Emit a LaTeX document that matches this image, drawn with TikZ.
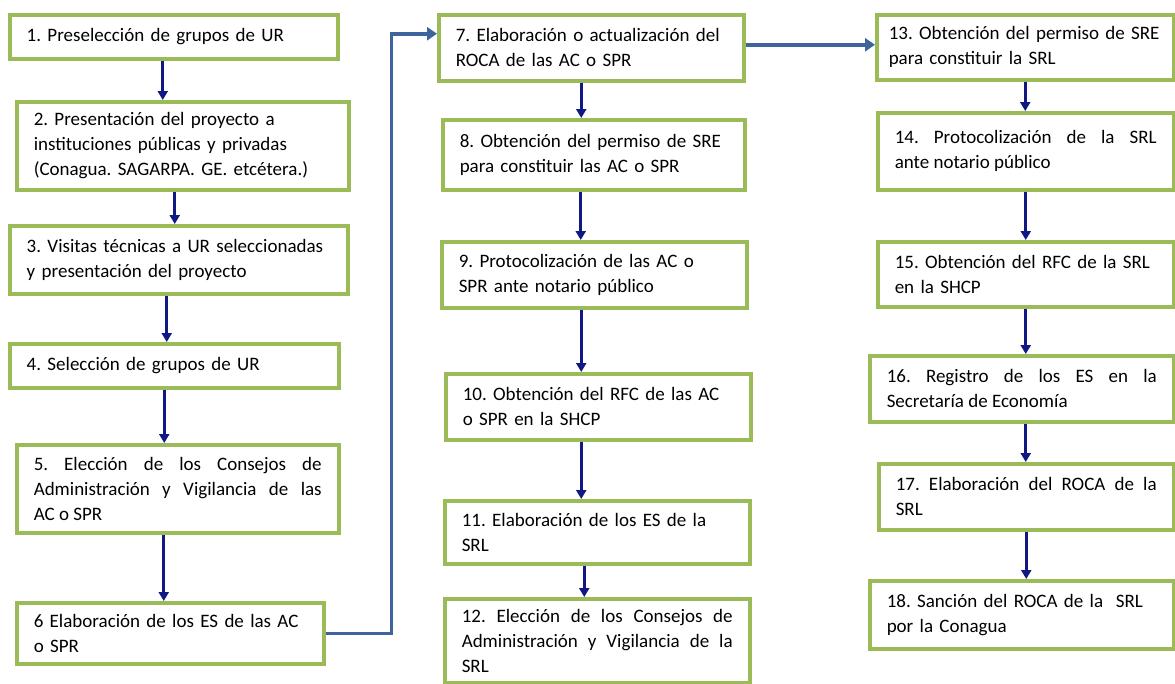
\documentclass[tikz,border=0pt]{standalone}
\usepackage{fontspec}
\setmainfont{Carlito}
\usepackage{tikz}
\usetikzlibrary{arrows.meta,calc}
\definecolor{boxgreen}{RGB}{155,187,89}
\definecolor{navyarrow}{RGB}{16,24,132}
\definecolor{linkblue}{RGB}{62,100,158}
\frenchspacing

\begin{document}
\begin{tikzpicture}[x=1pt,y=-1pt]
  \tikzstyle{pbox}=[rectangle,draw=boxgreen,line width=3.5pt,fill=white,anchor=north west,inner xsep=17pt,inner ysep=2pt,align=left,font=\fontsize{19}{25}\selectfont]
  \tikzstyle{jbox}=[pbox,align=justify]
  \tikzstyle{down}=[draw=navyarrow,line width=2.6pt,-{Triangle[width=10pt,length=9pt]}]
  \tikzstyle{link}=[draw=linkblue,line width=3.5pt,-{Triangle[width=13pt,length=10pt]}]
  \useasboundingbox (0,0) rectangle (1175,683);
  % columna 1
  \node[pbox,text width=294pt,minimum height=44pt] (b1) at (8,13) {1. Preselección de grupos de UR};
  \node[pbox,text width=298pt,minimum height=88pt] (b2) at (15,100) {2. Presentación del proyecto a\\instituciones públicas y privadas\\(Conagua. SAGARPA. GE. etcétera.)};
  \node[pbox,text width=304pt,minimum height=68pt] (b3) at (8,224) {3. Visitas técnicas a UR seleccionadas\\y presentación del proyecto};
  \node[pbox,text width=295pt,minimum height=44pt] (b4) at (8,342) {4. Selección de grupos de UR};
  \node[jbox,text width=288pt,minimum height=88pt] (b5) at (15,443) {5. Elección de los Consejos de\linebreak Administración y Vigilancia de las\linebreak AC o SPR};
  \node[pbox,text width=273pt,minimum height=61pt] (b6) at (15,601) {6 Elaboración de los ES de las AC\\o SPR};
  % columna 2
  \node[pbox,text width=271pt,minimum height=66pt] (b7) at (437,13) {7. Elaboración o actualización del\\ROCA de las AC o SPR};
  \node[pbox,text width=268pt,minimum height=70pt] (b8) at (441,118) {8. Obtención del permiso de SRE\\para constituir las AC o SPR};
  \node[pbox,text width=271pt,minimum height=66pt] (b9) at (440,240) {9. Protocolización de las AC o\\SPR ante notario público};
  \node[pbox,text width=271pt,minimum height=66pt] (b10) at (444,372) {10. Obtención del RFC de las AC\\o SPR en la SHCP};
  \node[pbox,text width=271pt,minimum height=63pt] (b11) at (443,499) {11. Elaboración de los ES de la\\SRL};
  \node[jbox,text width=271pt,minimum height=84pt] (b12) at (443,597) {12. Elección de los Consejos de\linebreak Administración y Vigilancia de la\linebreak SRL};
  % columna 3
  \node[pbox,text width=273pt,inner xsep=12pt,minimum height=65pt] (b13) at (875,13) {13. Obtención del permiso de SRE\\para constituir la SRL};
  \node[jbox,text width=262pt,minimum height=77pt] (b14) at (876,111) {14. Protocolización de la SRL\linebreak ante notario público};
  \node[pbox,text width=262pt,minimum height=65pt] (b15) at (876,240) {15. Obtención del RFC de la SRL\\en la SHCP};
  \node[jbox,text width=270pt,minimum height=66pt] (b16) at (868,354) {16. Registro de los ES en la\linebreak Secretaría de Economía};
  \node[jbox,text width=261pt,minimum height=66pt] (b17) at (877,462) {17. Elaboración del ROCA de la\linebreak SRL};
  \node[pbox,text width=270pt,minimum height=68pt] (b18) at (868,579) {18. Sanción del ROCA de la~ SRL\\por la Conagua};
  % flechas
  \draw[down] ([xshift=-11pt]b1.south) -- ([xshift=-11pt]b1.south |- b2.north);
  \draw[down] ([xshift=-8pt]b2.south) -- ([xshift=-8pt]b2.south |- b3.north);
  \draw[down] ([xshift=-12pt]b3.south) -- ([xshift=-12pt]b3.south |- b4.north);
  \draw[down] ([xshift=-10pt]b4.south) -- ([xshift=-10pt]b4.south |- b5.north);
  \draw[down] ([xshift=-14pt]b5.south) -- ([xshift=-14pt]b5.south |- b6.north);
  \draw[down] ([xshift=-10pt]b7.south) -- ([xshift=-10pt]b7.south |- b8.north);
  \draw[down] ([xshift=-13pt]b8.south) -- ([xshift=-13pt]b8.south |- b9.north);
  \draw[down] ([xshift=-13pt]b9.south) -- ([xshift=-13pt]b9.south |- b10.north);
  \draw[down] ([xshift=-17pt]b10.south) -- ([xshift=-17pt]b10.south |- b11.north);
  \draw[down] ([xshift=-13pt]b11.south) -- ([xshift=-13pt]b11.south |- b12.north);
  \draw[down] (b13.south) -- (b13.south |- b14.north);
  \draw[down] (b14.south) -- (b14.south |- b15.north);
  \draw[down] (b15.south) -- (b15.south |- b16.north);
  \draw[down] ([xshift=4pt]b16.south) -- ([xshift=4pt]b16.south |- b17.north);
  \draw[down] (b17.south) -- (b17.south |- b18.north);
  \draw[link] (b6.east) -- ++(66,0) |- ([yshift=14pt]b7.west);
  \draw[link] ([yshift=3pt]b7.east) -- ([yshift=3pt]b7.east -| b13.west);
\end{tikzpicture}
\end{document}
